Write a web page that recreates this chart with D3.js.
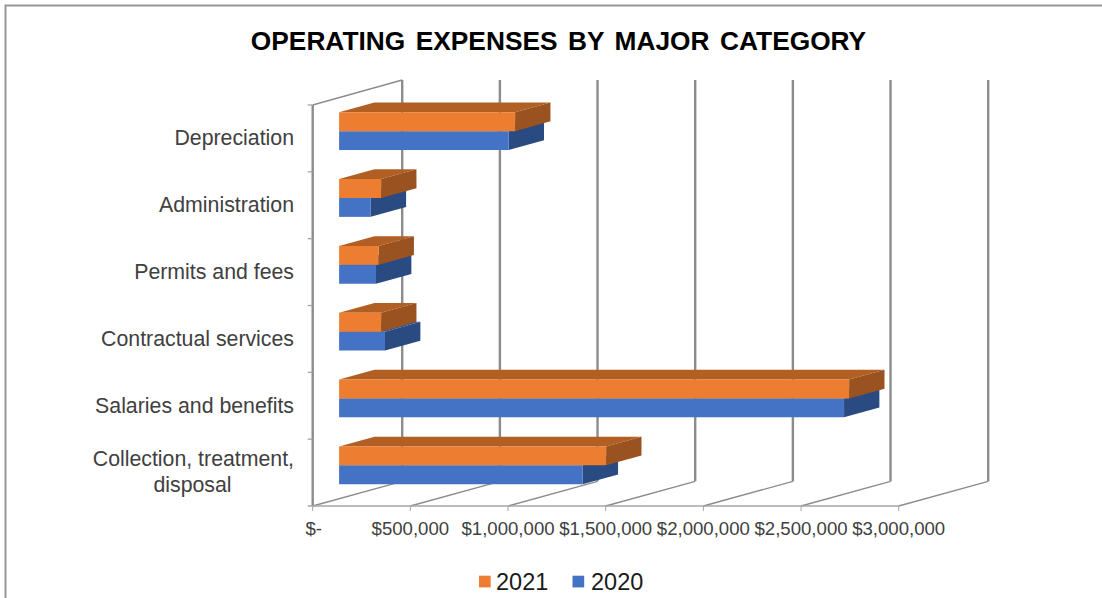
<!DOCTYPE html>
<html><head><meta charset="utf-8">
<script src="https://cdn.jsdelivr.net/npm/d3@7"></script>
<style>html,body{margin:0;padding:0;background:#fff}svg{display:block}text{font-family:"Liberation Sans",Arial,sans-serif}</style>
</head><body><div id="chart"></div>
<script>
const categories = ["Depreciation","Administration","Permits and fees","Contractual services","Salaries and benefits","Collection, treatment, disposal"];
const values2021 = [901000,215000,202000,215000,2611000,1367000];
const values2020 = [868000,162000,189000,235000,2585000,1247000];
const ticks = [0,500000,1000000,1500000,2000000,2500000,3000000];
const tickLabels = ["$-","$500,000","$1,000,000","$1,500,000","$2,000,000","$2,500,000","$3,000,000"];
const title = "OPERATING EXPENSES BY MAJOR CATEGORY";

const W=1102,H=598;
const svg=d3.select("#chart").append("svg").attr("width",W).attr("height",H);
const x=d3.scaleLinear().domain([0,3000000]).range([312.7,898.7]);
const y=d3.scaleBand().domain(categories).range([105,506]);
const wall={dx:89.5,dy:-24.7};
const near=0.295, far=0.69;
const barH=18.9;
const line=d3.line();

svg.append("path").attr("d",line([[5.5,H],[5.5,5.5],[W,5.5]])).attr("fill","none").attr("stroke","#969696").attr("stroke-width",2);

svg.append("text").attr("x",558.5).attr("y",50).attr("text-anchor","middle").attr("font-size",26.3).attr("word-spacing",3.2).attr("font-weight","bold").attr("fill","#000").text(title);

const grid=svg.append("g");
const wallTop=80;
ticks.forEach(t=>{
  const x0=x(t);
  grid.append("path").attr("d",line([[x0,506],[x0+wall.dx,506+wall.dy]])).attr("fill","none").attr("stroke","#8c8c8c").attr("stroke-width",1.3);
  grid.append("path").attr("d",line([[x0+wall.dx,506+wall.dy],[x0+wall.dx,wallTop]])).attr("fill","none").attr("stroke","#8c8c8c").attr("stroke-width",2.4);
  grid.append("path").attr("d",line([[x0,506],[x0,511]])).attr("fill","none").attr("stroke","#a6a6a6").attr("stroke-width",1);
});
grid.append("path").attr("d",line([[x(0),y.range()[0]],[x(0)+wall.dx,wallTop]])).attr("fill","none").attr("stroke","#8c8c8c").attr("stroke-width",1.3);
grid.append("path").attr("d",line([[x(0),506],[x(0),y.range()[0]]])).attr("fill","none").attr("stroke","#8c8c8c").attr("stroke-width",2.4);
grid.append("path").attr("d",line([[x(0)-5,506],[x(3000000),506]])).attr("fill","none").attr("stroke","#a6a6a6").attr("stroke-width",1.3);
categories.forEach(c=>{
  grid.append("path").attr("d",line([[x(0)-5,y(c)],[x(0),y(c)]])).attr("fill","none").attr("stroke","#a6a6a6").attr("stroke-width",1.3);
});

function bar(g,val,top,bottom,cols){
  const ox=wall.dx*near, oy=wall.dy*near;
  const ex=wall.dx*(far-near), ey=wall.dy*(far-near);
  const x0=x(0)+ox, x1=x(val)+ox;
  const y0=top+oy, y1=bottom+oy;
  g.append("path").attr("fill",cols[1]).attr("d",line([[x0,y0],[x0+ex,y0+ey],[x1+ex,y0+ey],[x1,y0]])+"Z");
  g.append("path").attr("fill",cols[2]).attr("d",line([[x1,y0],[x1+ex,y0+ey],[x1+ex,y1+ey],[x1,y1]])+"Z");
  g.append("path").attr("fill",cols[0]).attr("d",line([[x0,y0],[x1,y0],[x1,y1],[x0,y1]])+"Z");
}
const orange=["#ED7D31","#B25F23","#9A5220"], blue=["#4472C4","#36599A","#2A4A82"];
const bars=svg.append("g");
categories.forEach((c,i)=>{
  const mid=y(c)+y.bandwidth()/2;
  bar(bars,values2020[i],mid,mid+barH,blue);
  bar(bars,values2021[i],mid-barH,mid,orange);
});

const labelX=294;
categories.forEach((c,i)=>{
  const multi=c.startsWith("Collection");
  const lines = multi ? ["Collection, treatment,","disposal"] : [c];
  const cy=y(c)+y.bandwidth()/2;
  lines.forEach((l,k)=>{
    svg.append("text").attr("x",multi&&k==1?192.5:labelX).attr("text-anchor",multi&&k==1?"middle":"end")
      .attr("y",multi?(k==0?466:492):cy+7)
      .attr("font-size",21.3).attr("fill","#404040").text(l);
  });
});
ticks.forEach((t,i)=>{
  svg.append("text").attr("x",x(t)+(i==0?1:0)).attr("y",535).attr("text-anchor","middle").attr("font-size",18.6).attr("fill","#404040").text(tickLabels[i]);
});

const legend=[["2021",orange[0],479,496],["2020",blue[0],572.5,591]];
legend.forEach(([t,c,sx,tx])=>{
  svg.append("rect").attr("x",sx).attr("y",575.7).attr("width",11.7).attr("height",11.7).attr("fill",c);
  svg.append("text").attr("x",tx).attr("y",590).attr("font-size",23.5).attr("fill","#1a1a1a").text(t);
});
</script></body></html>
